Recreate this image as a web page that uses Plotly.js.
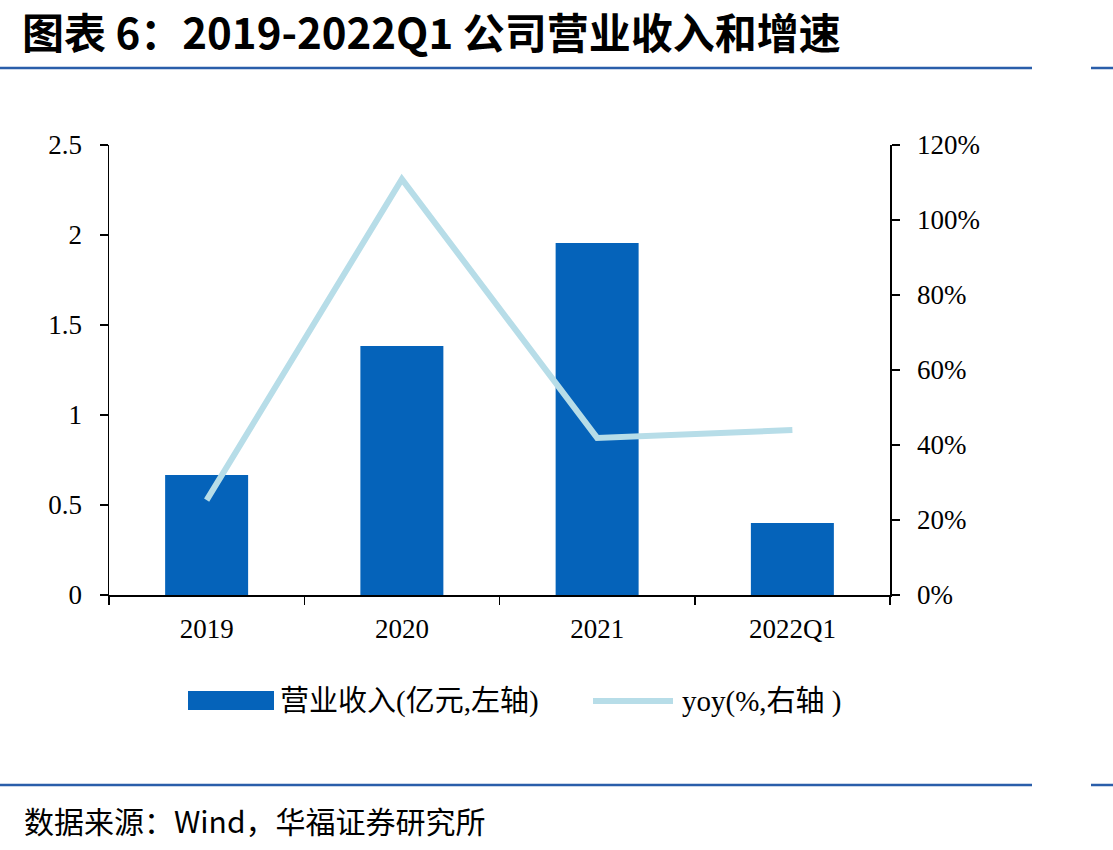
<!DOCTYPE html>
<html>
<head>
<meta charset="utf-8">
<script src="https://cdn.plot.ly/plotly-3.0.1.min.js"></script>
<style>
html,body{margin:0;padding:0;background:#fff;}
#chart{width:1113px;height:850px;}
</style>
</head>
<body>
<div id="chart"></div>
<script>
// Data
const categories = ['2019', '2020', '2021', '2022Q1'];
const revenue = [0.667, 1.383, 1.956, 0.40];   // 营业收入 (亿元)
const yoy = [25.3, 110.9, 41.9, 44.0];         // yoy (%)
const leftTicks = [0, 0.5, 1, 1.5, 2, 2.5];
const leftTickText = ['0', '0.5', '1', '1.5', '2', '2.5'];
const rightTicks = [0, 20, 40, 60, 80, 100, 120];
const rightTickText = ['0%', '20%', '40%', '60%', '80%', '100%', '120%'];
const titleText = '图表 6：2019-2022Q1 公司营业收入和增速';
const sourceText = '数据来源：Wind，华福证券研究所';
const legendBar = '营业收入(亿元,左轴)';
const legendLine = 'yoy(%,右轴 )';

const barColor = '#0563BA';
const lineColor = '#B7DDE8';
const tickFont = {family: '"Liberation Serif", "Times New Roman", serif', size: 27, color: '#000'};

const traces = [
  {type: 'bar', x: categories, y: revenue, marker: {color: barColor}, name: legendBar,
   yaxis: 'y', showlegend: false, hoverinfo: 'skip'},
  {type: 'scatter', mode: 'lines', x: categories, y: yoy, yaxis: 'y2', name: legendLine,
   line: {color: lineColor, width: 6}, showlegend: false, hoverinfo: 'skip'}
];

const W = 1113, H = 850;
const M = {l: 109, r: 223, t: 145, b: 255};
const PW = W - M.l - M.r, PH = H - M.t - M.b;
// convert page pixel to plotly paper coordinates
const px = v => (v - M.l) / PW;
const py = v => (H - M.b - v) / PH;

const layout = {
  width: W, height: H,
  margin: M,
  paper_bgcolor: '#fff', plot_bgcolor: '#fff',
  bargap: 0.575,
  showlegend: false,
  xaxis: {
    type: 'category', showline: true, linecolor: '#000', linewidth: 1.5,
    ticks: 'outside', tickson: 'boundaries', ticklen: 8, tickcolor: '#000', tickwidth: 1.5,
    tickfont: tickFont, ticklabelstandoff: 9, showgrid: false, zeroline: false, fixedrange: true
  },
  yaxis: {
    range: [0, 2.5], tickvals: leftTicks, ticktext: leftTickText,
    showline: true, linecolor: '#000', linewidth: 1.5,
    ticks: 'outside', ticklen: 8, tickcolor: '#000', tickwidth: 1.5,
    tickfont: tickFont, ticklabelstandoff: 12, showgrid: false, zeroline: false, fixedrange: true
  },
  yaxis2: {
    overlaying: 'y', side: 'right', range: [0, 120],
    tickvals: rightTicks, ticktext: rightTickText,
    showline: true, linecolor: '#000', linewidth: 1.5,
    ticks: 'outside', ticklen: 8, tickcolor: '#000', tickwidth: 1.5,
    tickfont: tickFont, ticklabelstandoff: 12, showgrid: false, zeroline: false, fixedrange: true
  },
  shapes: [
    // top rule
    {type: 'line', xref: 'paper', yref: 'paper', x0: px(0), x1: px(1032), y0: py(68), y1: py(68), line: {color: '#2A5EAA', width: 2.5}},
    {type: 'line', xref: 'paper', yref: 'paper', x0: px(1091), x1: px(1113), y0: py(68), y1: py(68), line: {color: '#2A5EAA', width: 2.5}},
    // bottom rule
    {type: 'line', xref: 'paper', yref: 'paper', x0: px(0), x1: px(1032), y0: py(785), y1: py(785), line: {color: '#2A5EAA', width: 2.5}},
    {type: 'line', xref: 'paper', yref: 'paper', x0: px(1091), x1: px(1113), y0: py(785), y1: py(785), line: {color: '#2A5EAA', width: 2.5}},
    // legend symbols
    {type: 'rect', xref: 'paper', yref: 'paper', x0: px(188), x1: px(274), y0: py(710), y1: py(691), fillcolor: barColor, line: {width: 0}},
    {type: 'line', xref: 'paper', yref: 'paper', x0: px(593), x1: px(673), y0: py(701), y1: py(701), line: {color: lineColor, width: 6}}
  ],
  annotations: [
    {xref: 'paper', yref: 'paper', x: px(20), y: py(31), xanchor: 'left', yanchor: 'middle', showarrow: false,
     text: '<b>' + titleText + '</b>', font: {family: '"Noto Sans CJK SC", "Liberation Sans", sans-serif', size: 42, color: '#000'}},
    {xref: 'paper', yref: 'paper', x: px(278), y: py(701), xanchor: 'left', yanchor: 'middle', showarrow: false,
     text: legendBar, font: {family: '"Liberation Serif", "Noto Sans CJK SC", serif', size: 29, color: '#000'}},
    {xref: 'paper', yref: 'paper', x: px(680), y: py(701), xanchor: 'left', yanchor: 'middle', showarrow: false,
     text: legendLine, font: {family: '"Liberation Serif", "Noto Sans CJK SC", serif', size: 29, color: '#000'}},
    {xref: 'paper', yref: 'paper', x: px(22), y: py(820), xanchor: 'left', yanchor: 'middle', showarrow: false,
     text: sourceText, font: {family: '"Noto Sans CJK SC", "Liberation Sans", sans-serif', size: 30, color: '#000'}}
  ]
};

Plotly.newPlot('chart', traces, layout, {displayModeBar: false, staticPlot: true});
</script>
</body>
</html>
